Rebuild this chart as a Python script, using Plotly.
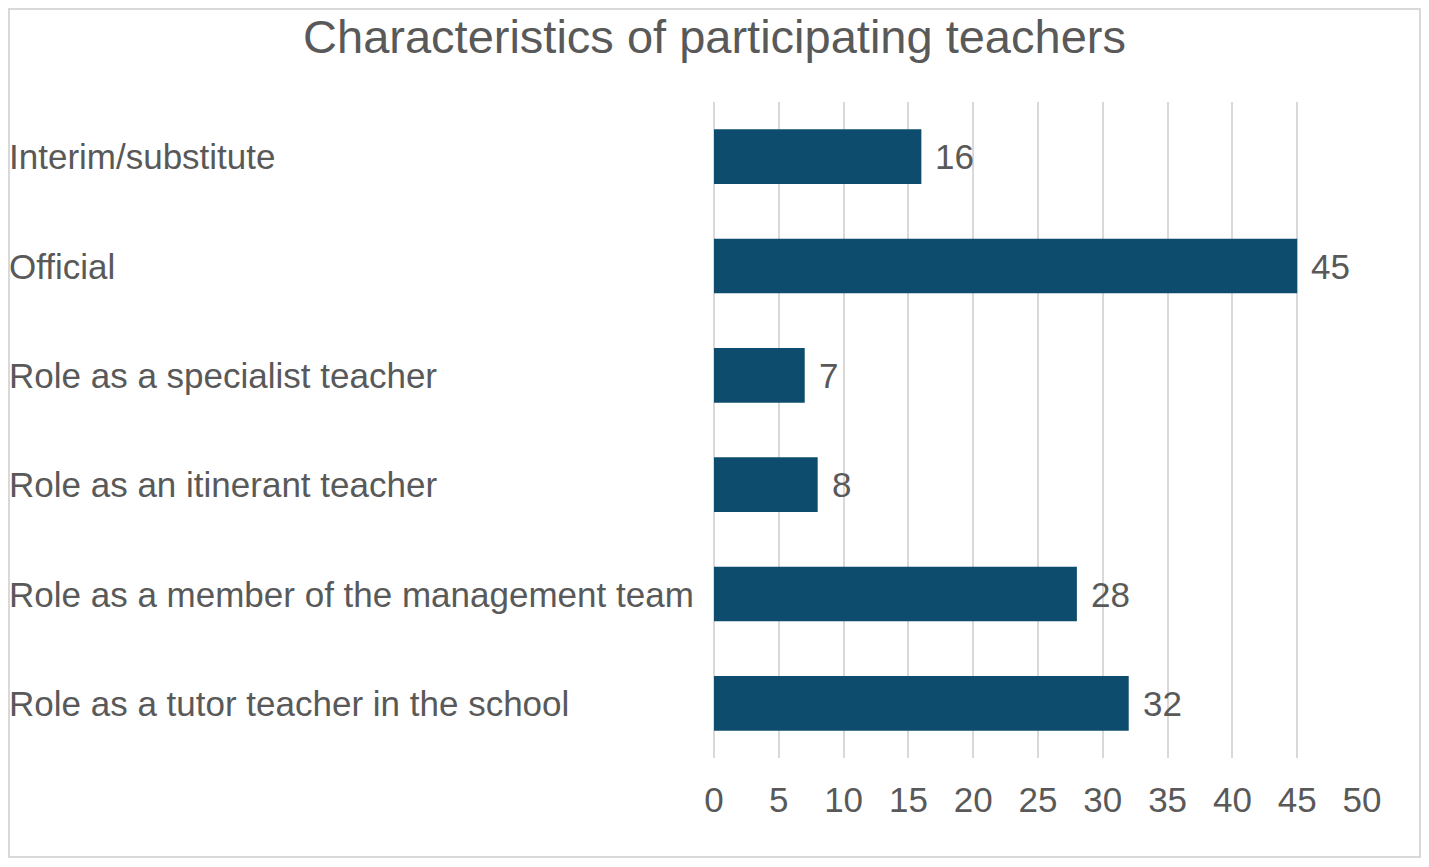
import plotly.graph_objects as go

categories = [
    "Interim/substitute",
    "Official",
    "Role as a specialist teacher",
    "Role as an itinerant teacher",
    "Role as a member of the management team",
    "Role as a tutor teacher in the school",
]
values = [16, 45, 7, 8, 28, 32]
x_ticks = [0, 5, 10, 15, 20, 25, 30, 35, 40, 45, 50]

FONT = "Liberation Sans, Arial, sans-serif"
TXT = "#595959"
BAR = "#0E4C6E"
GRID = "#D9D9D9"

fig = go.Figure(
    go.Bar(
        x=values,
        y=categories,
        orientation="h",
        marker=dict(color=BAR, line=dict(width=0)),
        cliponaxis=False,
        hoverinfo="x+y",
    )
)

for c in categories:
    fig.add_annotation(
        x=0, xref="paper", xshift=-707, y=c, yref="y",
        text=c, showarrow=False, xanchor="left", yanchor="middle",
        font=dict(family=FONT, size=35, color=TXT),
    )

for c, v in zip(categories, values):
    fig.add_annotation(
        x=v, xref="x", y=c, yref="y", xshift=12,
        text=str(v), showarrow=False, xanchor="left", yanchor="middle",
        font=dict(family=FONT, size=35, color=TXT),
    )

fig.update_layout(
    width=1413,
    height=851,
    margin=dict(l=706, r=59, t=94, b=101),
    paper_bgcolor="white",
    plot_bgcolor="white",
    showlegend=False,
    bargap=0.5,
    title=dict(
        text="Characteristics of participating teachers",
        x=0.5, xanchor="center", y=0.967, yanchor="middle",
        font=dict(family=FONT, size=47, color=TXT),
    ),
    xaxis=dict(
        range=[0, 50],
        tickvals=x_ticks,
        showgrid=True,
        gridcolor=GRID,
        gridwidth=2,
        zeroline=True,
        zerolinecolor=GRID,
        zerolinewidth=2,
        showline=False,
        tickfont=dict(family=FONT, size=35, color=TXT),
        ticklabelstandoff=18,
        fixedrange=True,
    ),
    yaxis=dict(
        categoryorder="array",
        categoryarray=categories[::-1],
        showticklabels=False,
        showgrid=False,
        zeroline=False,
        showline=False,
        fixedrange=True,
    ),
    shapes=[
        dict(type="rect", xref="paper", yref="paper",
             x0=-705 / 648, x1=1 + 58 / 648, y0=-99 / 656, y1=1 + 93 / 656,
             line=dict(color=GRID, width=2), fillcolor="rgba(0,0,0,0)", layer="below"),
    ],
)

fig.write_html("out.html")
